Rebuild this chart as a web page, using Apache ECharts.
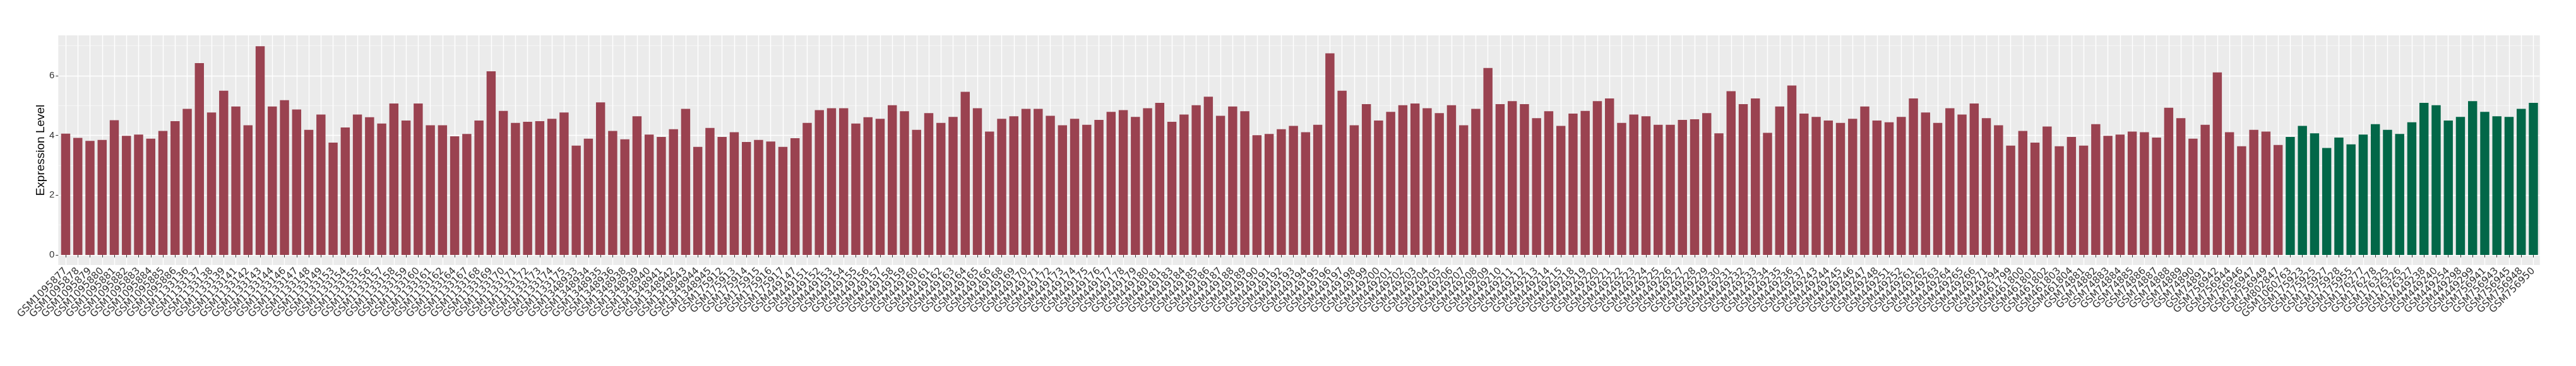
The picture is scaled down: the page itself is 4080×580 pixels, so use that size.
<!DOCTYPE html>
<html><head><meta charset="utf-8">
<script src="https://cdn.jsdelivr.net/npm/echarts@6/dist/echarts.min.js"></script>
<style>html,body{margin:0;padding:0;background:#fff}#c{width:4080px;height:580px}</style>
</head><body><div id="c"></div>
<script>
// ---- data ----
const groupA_samples = [
"GSM1095877","GSM1095878","GSM1095879","GSM1095880","GSM1095881","GSM1095882","GSM1095883","GSM1095884","GSM1095885","GSM1095886",
"GSM1133136","GSM1133137","GSM1133138","GSM1133139","GSM1133141","GSM1133142","GSM1133143","GSM1133144","GSM1133146","GSM1133147",
"GSM1133148","GSM1133149","GSM1133153","GSM1133154","GSM1133155","GSM1133156","GSM1133157","GSM1133158","GSM1133159","GSM1133160",
"GSM1133161","GSM1133162","GSM1133164","GSM1133167","GSM1133168","GSM1133169","GSM1133170","GSM1133171","GSM1133172","GSM1133173",
"GSM1133174","GSM1133175","GSM1348933","GSM1348934","GSM1348935","GSM1348936","GSM1348938","GSM1348939","GSM1348940","GSM1348941",
"GSM1348942","GSM1348943","GSM1348944","GSM1348945","GSM175912","GSM175913","GSM175914","GSM175915","GSM175916","GSM175917",
"GSM449147","GSM449151","GSM449152","GSM449153","GSM449154","GSM449155","GSM449156","GSM449157","GSM449158","GSM449159",
"GSM449160","GSM449161","GSM449162","GSM449163","GSM449164","GSM449165","GSM449166","GSM449168","GSM449169","GSM449170",
"GSM449171","GSM449172","GSM449173","GSM449174","GSM449175","GSM449176","GSM449177","GSM449178","GSM449179","GSM449180",
"GSM449181","GSM449183","GSM449184","GSM449185","GSM449186","GSM449187","GSM449188","GSM449189","GSM449190","GSM449191",
"GSM449192","GSM449193","GSM449194","GSM449195","GSM449196","GSM449197","GSM449198","GSM449199","GSM449200","GSM449201",
"GSM449202","GSM449203","GSM449204","GSM449205","GSM449206","GSM449207","GSM449208","GSM449209","GSM449210","GSM449211",
"GSM449212","GSM449213","GSM449214","GSM449215","GSM449218","GSM449219","GSM449220","GSM449221","GSM449222","GSM449223",
"GSM449224","GSM449225","GSM449226","GSM449227","GSM449228","GSM449229","GSM449230","GSM449231","GSM449232","GSM449233",
"GSM449234","GSM449235","GSM449236","GSM449237","GSM449243","GSM449244","GSM449245","GSM449246","GSM449247","GSM449248",
"GSM449251","GSM449252","GSM449261","GSM449262","GSM449263","GSM449264","GSM449265","GSM449266","GSM449271","GSM449294",
"GSM461799","GSM461800","GSM461801","GSM461802","GSM461803","GSM461804","GSM74881","GSM74882","GSM74883","GSM74884",
"GSM74885","GSM74886","GSM74887","GSM74888","GSM74889","GSM74890","GSM74891","GSM756942","GSM756944","GSM756946",
"GSM756947","GSM756949","GSM802847"
];
const groupA_values = [
4.06,3.92,3.82,3.85,4.51,3.99,4.03,3.89,4.15,4.48,
4.89,6.42,4.77,5.50,4.97,4.34,6.99,4.97,5.18,4.87,
4.19,4.70,3.76,4.27,4.70,4.61,4.40,5.07,4.50,5.07,
4.34,4.34,3.97,4.05,4.50,6.15,4.82,4.42,4.46,4.48,
4.56,4.77,3.66,3.89,5.11,4.15,3.87,4.64,4.03,3.95,
4.21,4.89,3.62,4.25,3.95,4.11,3.78,3.85,3.80,3.62,
3.91,4.42,4.85,4.91,4.91,4.40,4.61,4.56,5.01,4.81,
4.19,4.75,4.42,4.62,5.46,4.91,4.13,4.56,4.64,4.89,
4.89,4.66,4.34,4.56,4.36,4.52,4.79,4.85,4.62,4.91,
5.09,4.46,4.70,5.01,5.30,4.66,4.97,4.81,4.01,4.05,
4.21,4.32,4.11,4.36,6.75,5.50,4.34,5.05,4.50,4.79,
5.01,5.07,4.91,4.75,5.01,4.34,4.89,6.26,5.05,5.15,
5.05,4.58,4.81,4.32,4.73,4.82,5.15,5.24,4.42,4.70,
4.64,4.36,4.36,4.52,4.54,4.75,4.07,5.48,5.05,5.24,
4.09,4.97,5.67,4.73,4.62,4.50,4.42,4.56,4.97,4.50,
4.44,4.62,5.24,4.77,4.42,4.91,4.70,5.07,4.58,4.34,
3.66,4.15,3.76,4.30,3.64,3.95,3.66,4.38,3.99,4.03,
4.13,4.11,3.93,4.93,4.58,3.89,4.36,6.11,4.11,3.64,
4.19,4.13,3.68
];
const groupB_samples = [
"GSM1060763","GSM175923","GSM175925","GSM175927","GSM175928","GSM175955","GSM176277","GSM176278","GSM176325","GSM176326",
"GSM176327","GSM449238","GSM449240","GSM449254","GSM449298","GSM449299","GSM756941","GSM756943","GSM756945","GSM756948",
"GSM756950"
];
const groupB_values = [
3.95,4.32,4.07,3.58,3.93,3.70,4.03,4.38,4.19,4.05,
4.44,5.09,5.01,4.50,4.62,5.15,4.79,4.64,4.62,4.89,
5.09
];
const yTicks = [0, 2, 4, 6];
const yTitle = "Expression Level";

// ---- build ----
const COLOR_A = '#9A4250', COLOR_B = '#026748';
const categories = groupA_samples.concat(groupB_samples);
const barData = groupA_values.map(v => ({value: v, itemStyle: {color: COLOR_A}}))
  .concat(groupB_values.map(v => ({value: v, itemStyle: {color: COLOR_B}})));
const N = categories.length;

// geometry (px)
const PANEL_L = 92.3, PANEL_R = 4022.7, PANEL_T = 56, PANEL_B = 420;
const Y0 = 404, UNIT = 47.333;           // pixel of value 0 and px per unit
const FIRST_C = 104, LAST_C = 4012.5;    // first / last bar centre
const PITCH = (LAST_C - FIRST_C) / (N - 1);

const chart = echarts.init(document.getElementById('c'), null, {renderer: 'canvas'});
const hidden = {show: false};
chart.setOption({
  animation: false,
  backgroundColor: '#FFFFFF',
  grid: [
    // 0: panel background + title
    {left: PANEL_L, top: PANEL_T, width: PANEL_R - PANEL_L, height: PANEL_B - PANEL_T,
     show: true, backgroundColor: '#EBEBEB', borderWidth: 0},
    // 1: horizontal grid lines (0..8, minor at odd)
    {left: PANEL_L, top: Y0 - 8 * UNIT, width: PANEL_R - PANEL_L, height: 8 * UNIT},
    // 2: y tick labels (0..6)
    {left: PANEL_L, top: Y0 - 6 * UNIT, width: PANEL_R - PANEL_L, height: 6 * UNIT},
    // 3: vertical grid lines at bar centres
    {left: FIRST_C, top: PANEL_T, width: LAST_C - FIRST_C, height: PANEL_B - PANEL_T},
    // 4: bars
    {left: FIRST_C - PITCH / 2, top: PANEL_T, width: PITCH * N, height: PANEL_B - PANEL_T}
  ],
  xAxis: [
    {gridIndex: 0, type: 'value', min: 0, max: 1, show: false},
    {gridIndex: 1, type: 'value', min: 0, max: 1, show: false},
    {gridIndex: 2, type: 'value', min: 0, max: 1, show: false},
    {gridIndex: 3, type: 'value', min: 1, max: N, interval: 1,
     axisLine: hidden, axisTick: hidden, axisLabel: hidden,
     splitLine: {show: true, lineStyle: {color: '#FFFFFF', width: 1.4}}},
    {gridIndex: 4, type: 'category', data: categories, boundaryGap: true,
     axisLine: hidden,
     axisTick: {show: true, alignWithLabel: true, length: 4, lineStyle: {color: '#333333', width: 1}},
     axisLabel: {interval: 0, rotate: 45, margin: 7, color: '#333333',
                 fontFamily: 'DejaVu Sans', fontSize: 15.5},
     splitLine: hidden}
  ],
  yAxis: [
    {gridIndex: 0, type: 'value', min: 0, max: 1,
     axisLine: hidden, axisTick: hidden, axisLabel: hidden, splitLine: hidden,
     name: yTitle, nameLocation: 'middle', nameGap: 18,
     nameTextStyle: {color: '#000000', fontSize: 19, fontFamily: 'Liberation Sans'}},
    {gridIndex: 1, type: 'value', min: 0, max: 8, interval: 2,
     axisLine: hidden, axisTick: hidden, axisLabel: hidden,
     splitLine: {show: true, lineStyle: {color: '#FFFFFF', width: 1.4}},
     minorTick: {show: false, splitNumber: 2},
     minorSplitLine: {show: true, lineStyle: {color: '#F7F7F7', width: 0.8}}},
    {gridIndex: 2, type: 'value', min: yTicks[0], max: yTicks[yTicks.length - 1], interval: yTicks[1] - yTicks[0],
     axisLine: hidden,
     axisTick: {show: true, length: 4, lineStyle: {color: '#333333', width: 1}},
     axisLabel: {show: true, margin: 6, color: '#333333', fontSize: 15, fontFamily: 'Liberation Sans'},
     splitLine: hidden},
    {gridIndex: 3, type: 'value', min: 0, max: 1, show: false},
    {gridIndex: 4, type: 'value', min: (Y0 - PANEL_B) / UNIT, max: (Y0 - PANEL_T) / UNIT, show: false}
  ],
  series: [{
    type: 'bar', xAxisIndex: 4, yAxisIndex: 4,
    data: barData, barWidth: '75%', z: 5
  }]
});
</script></body></html>
